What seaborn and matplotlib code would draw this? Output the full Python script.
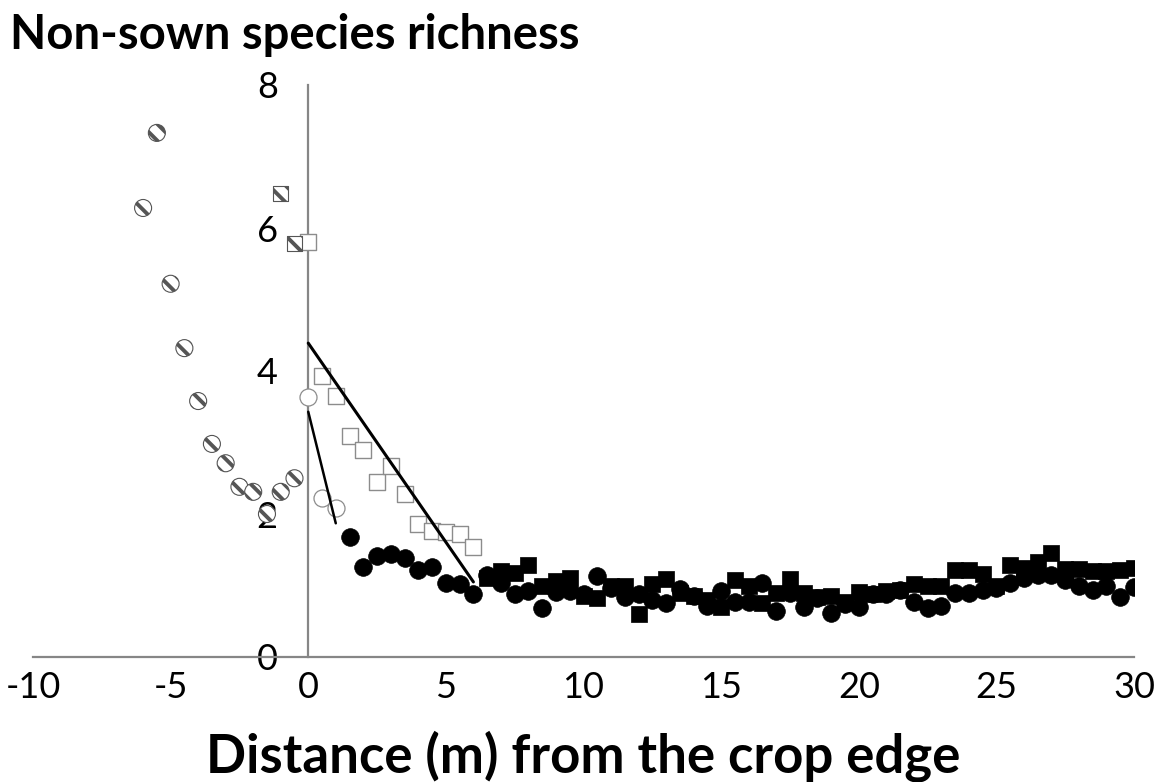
import numpy as np
import pandas as pd
import matplotlib
matplotlib.use("Agg")
import matplotlib.pyplot as plt
import seaborn as sns

# ---- data ----
hatch_circ_x = [-6, -5.5, -5, -4.5, -4, -3.5, -3, -2.5, -2, -1.5, -1, -0.5]
hatch_circ_y = [6.28, 7.33, 5.22, 4.32, 3.58, 2.98, 2.71, 2.38, 2.31, 2.00, 2.31, 2.50]

hatch_sq_x = [-1, -0.5]
hatch_sq_y = [6.48, 5.78]

open_sq_x = [0, 0.5, 1, 1.5, 2, 2.5, 3, 3.5, 4, 4.5, 5, 5.5, 6]
open_sq_y = [5.80, 3.93, 3.65, 3.09, 2.90, 2.45, 2.67, 2.28, 1.86, 1.76, 1.75, 1.72, 1.54]

open_circ_x = [0, 0.5, 1]
open_circ_y = [3.64, 2.22, 2.08]

filled_circ_x = [1.5, 2, 2.5, 3, 3.5, 4, 4.5, 5, 5.5, 6, 6.5, 7, 7.5, 8, 8.5, 9, 9.5, 10,
                 10.5, 11, 11.5, 12, 12.5, 13, 13.5, 14, 14.5, 15, 15.5, 16, 16.5, 17, 17.5,
                 18, 18.5, 19, 19.5, 20, 20.5, 21, 21.5, 22, 22.5, 23, 23.5, 24, 24.5, 25,
                 25.5, 26, 26.5, 27, 27.5, 28, 28.5, 29, 29.5, 30]
filled_circ_y = [1.68, 1.26, 1.41, 1.44, 1.38, 1.22, 1.26, 1.03, 1.02, 0.88, 1.15, 1.03, 0.88,
                 0.92, 0.68, 0.91, 0.92, 0.88, 1.13, 0.97, 0.84, 0.88, 0.80, 0.75, 0.95, 0.86,
                 0.72, 0.93, 0.77, 0.77, 1.04, 0.64, 0.90, 0.70, 0.82, 0.62, 0.74, 0.70, 0.88,
                 0.88, 0.94, 0.77, 0.69, 0.72, 0.90, 0.90, 0.94, 0.97, 1.03, 1.10, 1.14, 1.15,
                 1.08, 0.99, 0.94, 0.99, 0.84, 0.98]

filled_sq_x = [6.5, 7, 7.5, 8, 8.5, 9, 9.5, 10, 10.5, 11, 11.5, 12, 12.5, 13, 13.5, 14, 14.5,
               15, 15.5, 16, 16.5, 17, 17.5, 18, 18.5, 19, 19.5, 20, 20.5, 21, 21.5, 22, 22.5,
               23, 23.5, 24, 24.5, 25, 25.5, 26, 26.5, 27, 27.5, 28, 28.5, 29, 29.5, 30]
filled_sq_y = [1.10, 1.20, 1.17, 1.28, 1.00, 1.06, 1.10, 0.86, 0.82, 0.99, 0.99, 0.60, 1.02,
               1.09, 0.90, 0.86, 0.80, 0.70, 1.07, 1.00, 0.75, 0.90, 1.09, 0.90, 0.84, 0.85,
               0.77, 0.91, 0.88, 0.93, 0.94, 1.02, 1.00, 1.00, 1.22, 1.22, 1.16, 1.00, 1.28,
               1.24, 1.33, 1.45, 1.23, 1.23, 1.20, 1.20, 1.22, 1.24]

fit_long_x = [0, 6]
fit_long_y = [4.39, 1.05]
fit_short_x = [0, 1]
fit_short_y = [3.43, 1.87]

x_ticks = [-10, -5, 0, 5, 10, 15, 20, 25, 30]
y_ticks = [0, 2, 4, 6, 8]
title = "Non-sown species richness"
xlabel = "Distance (m) from the crop edge"

# ---- style ----
sns.set_style("white")
plt.rcParams["font.family"] = ["Lato", "DejaVu Sans"]
plt.rcParams["hatch.linewidth"] = 2.8
plt.rcParams["hatch.color"] = "black"

fig = plt.figure(figsize=(11.6, 7.82), dpi=100)
ax = fig.add_axes([33 / 1160, 1 - 657 / 782, (1134 - 33) / 1160, (657 - 85) / 782])

grey = "#868686"
ms = 125

sns.scatterplot(x=filled_sq_x, y=filled_sq_y, marker="s", s=ms * 1.0, color="black",
                edgecolor="black", linewidth=0.5, ax=ax, zorder=3)
sns.scatterplot(x=filled_circ_x, y=filled_circ_y, marker="o", s=ms * 1.3, color="black",
                edgecolor="black", linewidth=0.5, ax=ax, zorder=4)
sns.scatterplot(x=open_sq_x, y=open_sq_y, marker="s", s=ms * 1.05, facecolor="white",
                edgecolor="#8c8c8c", linewidth=1.0, ax=ax, zorder=3)
sns.scatterplot(x=open_circ_x, y=open_circ_y, marker="o", s=ms * 1.2, facecolor="white",
                edgecolor="#8c8c8c", linewidth=0.9, ax=ax, zorder=3)
sns.scatterplot(x=hatch_circ_x, y=hatch_circ_y, marker="o", s=ms * 1.2, facecolor="white",
                edgecolor="#555555", linewidth=0.8, hatch="\\\\", ax=ax, zorder=3)
sns.scatterplot(x=hatch_sq_x, y=hatch_sq_y, marker="s", s=ms * 1.0, facecolor="white",
                edgecolor="#555555", linewidth=0.8, hatch="\\\\", ax=ax, zorder=3)

sns.lineplot(x=fit_long_x, y=fit_long_y, color="black", linewidth=2.2, ax=ax, zorder=5)
sns.lineplot(x=fit_short_x, y=fit_short_y, color="black", linewidth=1.8, ax=ax, zorder=5)

ax.set_xlim(-10, 30)
ax.set_ylim(0, 8)
ax.set_xticks(x_ticks)
ax.set_yticks(y_ticks)
ax.set_xticklabels([str(t) for t in x_ticks])
ax.set_yticklabels([str(t) for t in y_ticks])

for s in ["top", "right"]:
    ax.spines[s].set_visible(False)
ax.spines["left"].set_position(("data", 0))
for s in ["left", "bottom"]:
    ax.spines[s].set_color(grey)
    ax.spines[s].set_linewidth(1.6)
ax.tick_params(axis="both", which="major", direction="out", length=7, width=1.2,
               color=grey, labelsize=26, labelcolor="black")
ax.tick_params(axis="y", pad=15)
ax.tick_params(axis="x", pad=3)
ax.set_xlabel("")
ax.set_ylabel("")
ax.patch.set_alpha(0)

fig.text(10 / 1160, 1 - 49 / 782, title, fontsize=34, fontweight="bold",
         ha="left", va="baseline", color="black")
fig.text(583 / 1160, 1 - 772 / 782, xlabel, fontsize=38, fontweight="bold",
         ha="center", va="baseline", color="black")

fig.savefig("out.png", dpi=100)
